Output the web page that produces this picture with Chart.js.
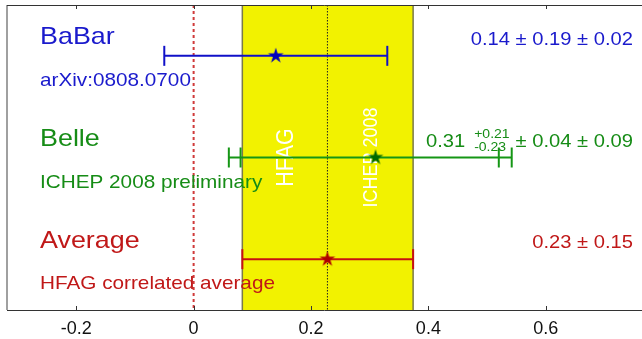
<!DOCTYPE html>
<html><head><meta charset="utf-8">
<script src="https://cdn.jsdelivr.net/npm/chart.js@4.4.1/dist/chart.umd.min.js"></script>
<style>html,body{margin:0;padding:0;background:#fff;overflow:hidden}</style>
</head><body>
<canvas id="c" width="642" height="339"></canvas>
<script>
// ---- data ----
const categories = ['BaBar', 'Belle', 'Average'];
const subtitles = ['arXiv:0808.0700', 'ICHEP 2008 preliminary', 'HFAG correlated average'];
const rowY = [2.5, 1.5, 0.5];
const central = [0.14, 0.31, 0.228];
const totalLow = [-0.05, 0.06, 0.083];
const totalHigh = [0.33, 0.542, 0.374];
const statLow = [null, 0.08, null];
const statHigh = [null, 0.52, null];
const resultMain = ['0.14 ± 0.19 ± 0.02', '0.31', '0.23 ± 0.15'];
const resultSup = [null, '+0.21', null];
const resultSub = [null, '-0.23', null];
const resultTail = [null, '± 0.04 ± 0.09', null];
const bandRange = [0.083, 0.374];
const bandCenter = 0.228;
const bandLabels = ['HFAG', 'ICHEP 2008'];
const xTicks = [-0.2, 0, 0.2, 0.4, 0.6];
const xTickLabels = ['-0.2', '0', '0.2', '0.4', '0.6'];

const textColors = ['#1a1acc', '#168c16', '#c01818'];
const barColors = ['#1010c8', '#159615', '#c81010'];
const starColors = ['#0000bb', '#006a00', '#b00000'];
const FONT = '"Liberation Sans", Arial, sans-serif';
const SX = 1.12;

function starImg(color) {
  const s = 18, c = document.createElement('canvas');
  c.width = s; c.height = s;
  const g = c.getContext('2d');
  g.fillStyle = color; g.beginPath();
  for (let i = 0; i < 10; i++) {
    const r = i % 2 ? 3.1 : 8.2;
    const a = -Math.PI / 2 + i * Math.PI / 5;
    g.lineTo(s / 2 + r * Math.cos(a), s / 2 + r * Math.sin(a));
  }
  g.closePath(); g.fill();
  return c;
}

function txt(ctx, s, x, y, size, color, align) {
  ctx.save();
  ctx.font = size + 'px ' + FONT;
  ctx.fillStyle = color; ctx.textBaseline = 'alphabetic'; ctx.textAlign = align;
  ctx.translate(x, y); ctx.scale(SX, 1);
  ctx.fillText(s, 0, 0);
  ctx.restore();
}
function tw(ctx, s, size) {
  ctx.save(); ctx.font = size + 'px ' + FONT;
  const w = ctx.measureText(s).width * SX; ctx.restore(); return w;
}
function vtxt(ctx, s, x, y, size, color) {
  ctx.save();
  ctx.font = size + 'px ' + FONT;
  ctx.fillStyle = color; ctx.textBaseline = 'alphabetic'; ctx.textAlign = 'center';
  ctx.translate(x, y); ctx.scale(SX, 1); ctx.rotate(-Math.PI / 2);
  ctx.fillText(s, 0, 0);
  ctx.restore();
}

const datasets = [];
categories.forEach((c, i) => {
  datasets.push({
    label: c + ' central', order: 0,
    data: [{ x: central[i], y: rowY[i] }],
    pointStyle: starImg(starColors[i]), pointRadius: 9, showLine: false
  });
});
categories.forEach((c, i) => {
  datasets.push({
    label: c + ' total', order: 1,
    data: [{ x: totalLow[i], y: rowY[i] }, { x: totalHigh[i], y: rowY[i] }],
    showLine: true, borderColor: barColors[i], borderWidth: 2,
    pointStyle: 'line', pointRotation: 90, pointRadius: 10,
    pointBorderColor: barColors[i], pointBorderWidth: 2
  });
  if (statLow[i] !== null) {
    datasets.push({
      label: c + ' stat', order: 1,
      data: [{ x: statLow[i], y: rowY[i] }, { x: statHigh[i], y: rowY[i] }],
      showLine: false,
      pointStyle: 'line', pointRotation: 90, pointRadius: 10,
      pointBorderColor: barColors[i], pointBorderWidth: 2
    });
  }
});

const decor = {
  id: 'decor',
  beforeDatasetsDraw(chart) {
    const { ctx, chartArea: a, scales: { x, y } } = chart;
    const bl = x.getPixelForValue(bandRange[0]), bh = x.getPixelForValue(bandRange[1]);
    ctx.save();
    ctx.fillStyle = '#f2f200';
    ctx.fillRect(bl, a.top, bh - bl, a.bottom - a.top);
    ctx.strokeStyle = '#7a7a48'; ctx.lineWidth = 1.5;
    ctx.beginPath();
    ctx.moveTo(bl, a.top); ctx.lineTo(bl, a.bottom);
    ctx.moveTo(bh, a.top); ctx.lineTo(bh, a.bottom);
    ctx.stroke();
    const bc = x.getPixelForValue(bandCenter);
    ctx.strokeStyle = '#222'; ctx.lineWidth = 1; ctx.setLineDash([1.5, 1.5]);
    ctx.beginPath(); ctx.moveTo(bc, a.top); ctx.lineTo(bc, a.bottom); ctx.stroke();
    const z = x.getPixelForValue(0);
    ctx.strokeStyle = '#d03a3a'; ctx.lineWidth = 2; ctx.setLineDash([3, 3]);
    ctx.beginPath(); ctx.moveTo(z, a.top); ctx.lineTo(z, a.bottom); ctx.stroke();
    ctx.restore();
    const yc = y.getPixelForValue(rowY[1]);
    vtxt(ctx, bandLabels[0], bl + 51, yc, 21.5, '#ffffff');
    vtxt(ctx, bandLabels[1], bc + 49.5, yc, 18, '#ffffff');
  },
  afterDatasetsDraw(chart) {
    const { ctx, chartArea: a, scales: { x, y } } = chart;
    ctx.save();
    ctx.strokeStyle = '#808080'; ctx.lineWidth = 1.5;
    ctx.beginPath(); ctx.moveTo(a.left, a.top); ctx.lineTo(a.left, a.bottom); ctx.stroke();
    ctx.strokeStyle = '#333'; ctx.lineWidth = 1;
    ctx.beginPath();
    ctx.moveTo(a.left, a.top + 0.5); ctx.lineTo(a.right, a.top + 0.5);
    ctx.moveTo(a.left, a.bottom + 0.5); ctx.lineTo(a.right, a.bottom + 0.5);
    xTicks.forEach(v => {
      const px = Math.round(x.getPixelForValue(v)) + 0.5;
      ctx.moveTo(px, a.bottom); ctx.lineTo(px, a.bottom - 4);
      ctx.moveTo(px, a.top); ctx.lineTo(px, a.top + 4);
    });
    ctx.stroke();
    ctx.restore();
    const lx = a.left + 33, rx = a.right - 9;
    categories.forEach((c, i) => {
      const py = y.getPixelForValue(rowY[i]);
      txt(ctx, c, lx, py - 11.5, 24, textColors[i], 'left');
      txt(ctx, subtitles[i], lx, py + 30, 18.5, textColors[i], 'left');
      if (resultTail[i] === null) {
        txt(ctx, resultMain[i], rx, py - 11, 18, textColors[i], 'right');
      } else {
        const tailW = tw(ctx, resultTail[i], 18);
        txt(ctx, resultTail[i], rx, py - 11, 18, textColors[i], 'right');
        const scrRight = rx - tailW - 6;
        const scrW = Math.max(tw(ctx, resultSup[i], 12.5), tw(ctx, resultSub[i], 12.5));
        txt(ctx, resultSup[i], scrRight - scrW, py - 20, 12.5, textColors[i], 'left');
        txt(ctx, resultSub[i], scrRight - scrW, py - 7, 12.5, textColors[i], 'left');
        txt(ctx, resultMain[i], scrRight - scrW - 9, py - 11, 18, textColors[i], 'right');
      }
    });
  }
};

new Chart(document.getElementById('c'), {
  type: 'scatter',
  data: { datasets },
  options: {
    responsive: false, animation: false, devicePixelRatio: 1,
    layout: { autoPadding: false, padding: { left: 7, top: 5, right: 0, bottom: 0 } },
    plugins: { legend: { display: false }, tooltip: { enabled: false } },
    events: [],
    scales: {
      x: {
        type: 'linear', min: -0.318, max: 0.764,
        afterBuildTicks: s => { s.ticks = xTicks.map(v => ({ value: v })); },
        afterFit: s => { s.height = 29; },
        grid: { display: false, drawTicks: false },
        border: { display: false },
        ticks: {
          autoSkip: false, maxRotation: 0, padding: 8, color: '#111',
          font: { family: 'Liberation Sans', size: 18 },
          callback: (v, i) => xTickLabels[i]
        }
      },
      y: { type: 'linear', min: 0, max: 3, display: false }
    }
  },
  plugins: [decor]
});
</script>
</body></html>
